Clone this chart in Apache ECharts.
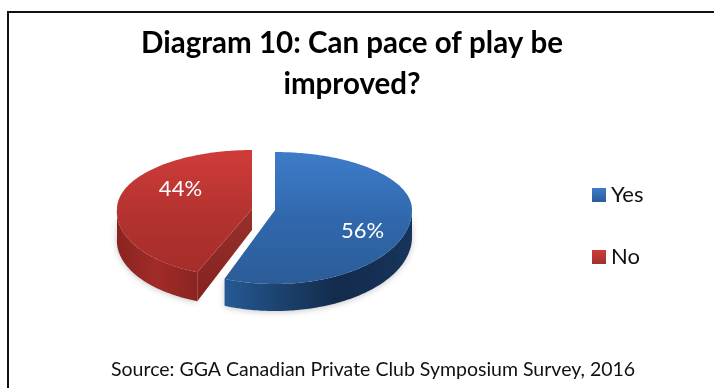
<!DOCTYPE html>
<html>
<head>
<meta charset="utf-8">
<style>html,body{margin:0;padding:0;background:#fff}#c{width:714px;height:388px}</style>
<script src="https://cdn.jsdelivr.net/npm/echarts@6/dist/echarts.min.js"></script>
</head>
<body>
<div id="c"></div>
<script>
const categories = ['Yes', 'No'];
const shares = [56, 44];
const titleLines = ['Diagram 10: Can pace of play be', 'improved?'];
const sourceNote = 'Source: GGA Canadian Private Club Symposium Survey, 2016';

const FONT = 'Lato, "Open Sans", sans-serif';
const total = shares.reduce((a, b) => a + b, 0);
const rad = d => d * Math.PI / 180;
const lin = (x1, y1, x2, y2, stops) => new echarts.graphic.LinearGradient(x1, y1, x2, y2,
  stops.map((c, i) => ({offset: c[0], color: c[1]})));

// perspective ellipse: back half is flatter than front half
const geom = [
  {cx: 275, cy: 210, rx: 137, top: 58, bot: 74, depth: 27, skew: 0},
  {cx: 252, cy: 209, rx: 135, top: 59, bot: 68, depth: 29, skew: 5.4}
];
const looks = [
  {face: lin(0,0,0,1,[[0,'#3e7cc9'],[0.5,'#3168ad'],[1,'#2b5c98']]),
   wall: lin(0,0,1,0,[[0,'#255a94'],[0.25,'#1d4674'],[0.6,'#132b4c'],[1,'#16345a']]),
   cut: '#1d4674', swatch: lin(0,0,0,1,[[0,'#3e7cc9'],[1,'#2b5c98']])},
  {face: lin(0,0,0,1,[[0,'#cf3c39'],[0.5,'#b53330'],[1,'#a62d2a']]),
   wall: lin(0,0,1,0,[[0,'#8a2421'],[0.5,'#a12b28'],[1,'#8a2421']]),
   cut: lin(0,0,0,1,[[0,'#98302b'],[1,'#84221f']]),
   swatch: lin(0,0,0,1,[[0,'#cf3c39'],[1,'#a0302d']])}
];

function pt(g, deg, dy) {
  const s = Math.sin(rad(deg)), c = Math.cos(rad(deg));
  const shift = c < 0 ? g.skew * c : 0;
  return [g.cx + g.rx * s + shift, g.cy - (c > 0 ? g.top : g.bot) * c + (dy || 0)];
}
function arc(g, a, b, dy) {
  const out = [], n = Math.max(2, Math.ceil(Math.abs(b - a)));
  for (let i = 0; i <= n; i++) out.push(pt(g, a + (b - a) * i / n, dy));
  return out;
}

function sliceRange(idx) {
  let start = 0;
  for (let i = 0; i < idx; i++) start += shares[i] / total * 360;
  return [start, start + shares[idx] / total * 360];
}

function renderSlice(params, api) {
  const idx = params.seriesIndex;
  const g = geom[idx], look = looks[idx];
  const [a, b] = sliceRange(idx);
  const children = [];
  // outer wall: only the part of the rim that faces the viewer (90..270 deg)
  const wa = Math.max(a, 90), wb = Math.min(b, 270);
  if (wb > wa) {
    children.push({type: 'polygon', z2: 1,
      shape: {points: arc(g, wa, wb, 0).concat(arc(g, wb, wa, g.depth))},
      style: {fill: look.wall, shadowBlur: 6, shadowColor: 'rgba(0,0,0,0.22)', shadowOffsetY: 1}});
  }
  // cut wall of the slice whose start edge faces the viewer
  if (a > 90 && a < 270) {
    const e = pt(g, a);
    const apex = [g.cx, g.cy];
    children.push({type: 'polygon', z2: 2,
      shape: {points: [apex, e, [e[0], e[1] + g.depth], [apex[0], apex[1] + g.depth - 8]]},
      style: {fill: look.cut}});
  }
  children.push({type: 'polygon', z2: 3,
    shape: {points: [[g.cx, g.cy]].concat(arc(g, a, b, 0))},
    style: {fill: look.face}});
  const lx = g.cx + g.rx * (idx === 0 ? 0.64 : -0.53);
  const ly = g.cy + (idx === 0 ? 21 : -20);
  children.push({type: 'text', z2: 5,
    style: {text: api.value(0) + '%', x: lx, y: ly, fill: '#fff', font: '22px ' + FONT,
      textAlign: 'center', textVerticalAlign: 'middle'}});
  return {type: 'group', children};
}

const chart = echarts.init(document.getElementById('c'), null, {renderer: 'canvas'});
chart.setOption({
  animation: false,
  backgroundColor: '#fff',
  title: {
    text: titleLines.join('\n'), left: 352, top: 23, textAlign: 'center', padding: 0,
    textStyle: {fontFamily: FONT, fontSize: 29.5, fontWeight: 'bold', color: '#000', lineHeight: 41}
  },
  legend: {
    orient: 'vertical', left: 592, top: 183, padding: 0, itemWidth: 14, itemHeight: 14, itemGap: 38,
    data: categories.map((n, i) => ({name: n, icon: 'rect', itemStyle: {color: looks[i].swatch}})),
    textStyle: {fontFamily: FONT, fontSize: 22, color: '#111', lineHeight: 24}
  },
  xAxis: {show: false}, yAxis: {show: false},
  graphic: [
    {type: 'line', shape: {x1: 8, y1: 12, x2: 714, y2: 12}, style: {stroke: '#111', lineWidth: 2}},
    {type: 'line', shape: {x1: 8, y1: 11, x2: 8, y2: 388}, style: {stroke: '#111', lineWidth: 2}},
    {type: 'text', left: 111, top: 360,
      style: {text: sourceNote, font: '19.5px ' + FONT, fill: '#111'}}
  ],
  series: categories.map((n, i) => ({
    name: n, type: 'custom', coordinateSystem: 'none',
    itemStyle: {color: looks[i].swatch},
    renderItem: renderSlice, data: [[shares[i]]]
  }))
});
</script>
</body>
</html>
